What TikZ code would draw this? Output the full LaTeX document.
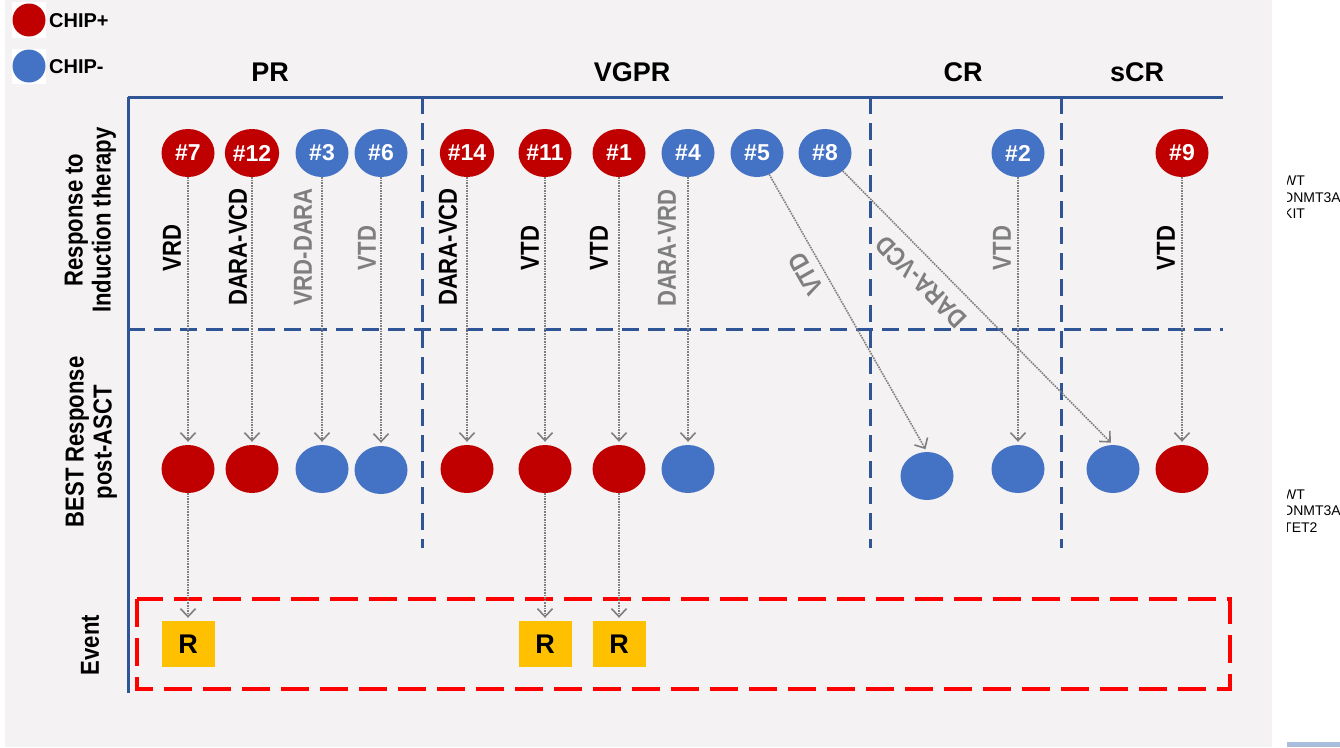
\documentclass[tikz,border=0pt]{standalone}
\usepackage{fontspec}
\usepackage{graphicx}
\setmainfont{Liberation Sans}
\usetikzlibrary{arrows.meta,shapes.geometric}
\definecolor{chipred}{HTML}{C00000}
\definecolor{chipblue}{HTML}{4472C4}
\definecolor{lineblue}{HTML}{2F5597}
\definecolor{evyellow}{HTML}{FFC000}
\definecolor{bggray}{HTML}{F4F2F3}
\definecolor{txtgray}{HTML}{7F7F7F}
\definecolor{barblue}{HTML}{A9BEDC}
\definecolor{evred}{HTML}{FF0000}
\newcommand\sqz[1]{\scalebox{0.85}[1]{#1}}
\begin{document}
\begin{tikzpicture}[x=1pt,y=-1pt,
  tcirc/.style={ellipse, minimum width=53, minimum height=48, inner sep=0, text=white, font=\fontsize{23}{23}\selectfont\bfseries},
  bcirc/.style={ellipse, minimum width=53, minimum height=48, inner sep=0},
  chipp/.style={fill=chipred},
  chipm/.style={fill=chipblue},
  evbox/.style={fill=evyellow, minimum width=53, minimum height=46, inner sep=0, font=\fontsize{27}{27}\selectfont\bfseries},
  conn/.style={draw=txtgray, line width=1.6, densely dotted, -{Straight Barb[length=8,width=15,line width=1.6]}, shorten >=3},
  lab/.style={inner sep=0, font=\fontsize{26}{26}\selectfont\bfseries},
  glab/.style={lab, text=txtgray},
  rowlab/.style={inner sep=0, rotate=90, font=\fontsize{26}{28}\selectfont\bfseries},
  hdr/.style={inner sep=0, font=\fontsize{27}{27}\selectfont\bfseries},
  axisline/.style={draw=lineblue, line width=3},
  bdash/.style={draw=lineblue, line width=3, dash pattern=on 17 off 9},
  rdash/.style={draw=evred, line width=3.5, dash pattern=on 28 off 11},
  side/.style={inner sep=0, anchor=base west, font=\fontsize{14}{16}\selectfont}
]
% background
\fill[white] (0,0) rectangle (1340,747);
\fill[bggray] (5,0) rectangle (1272,747);
\fill[barblue] (1287,742) rectangle (1340,747);
\useasboundingbox (0,0) rectangle (1340,747);

% legend
\fill[white] (12,2) rectangle (46,38);
\fill[white] (12,49) rectangle (46,84);
\node[circle, fill=chipred, minimum size=33, inner sep=0] (lp) at (29,20) {};
\node[circle, fill=chipblue, minimum size=33, inner sep=0] (lm) at (29,66) {};
\node[inner sep=0, anchor=west, font=\fontsize{20}{20}\selectfont\bfseries] (lpt) at (49,21) {CHIP+};
\node[inner sep=0, anchor=west, font=\fontsize{20}{20}\selectfont\bfseries] (lmt) at (49,67) {CHIP-};

% headers
\node[hdr] (hPR) at (270,72) {PR};
\node[hdr] (hVGPR) at (632,72) {VGPR};
\node[hdr] (hCR) at (963,72) {CR};
\node[hdr] (hsCR) at (1137,72) {sCR};

% frame lines
\draw[axisline] (128,97) -- (1223,97);
\draw[axisline] (128,97) -- (128,693);
\draw[bdash] (128,329) -- (1223,329);
\draw[bdash] (422,97) -- (422,548);
\draw[bdash] (870,97) -- (870,548);
\draw[bdash] (1061,97) -- (1061,548);
\draw[rdash] (137,599) rectangle (1230,689);

% row labels
\node[rowlab] (rl1) at (91,220) {\sqz{\begin{tabular}{@{}c@{}}Response to\\Induction therapy\end{tabular}}};
\node[rowlab] (rl2) at (92,442) {\sqz{\begin{tabular}{@{}c@{}}BEST Response\\post-ASCT\end{tabular}}};
\node[rowlab] (rl3) at (90,645) {\sqz{Event}};

% top circles
\node[tcirc, chipp] (t7) at (188,153) {\#7};
\node[tcirc, chipp] (t12) at (252,153) {\#12};
\node[tcirc, chipm] (t3) at (322,153) {\#3};
\node[tcirc, chipm] (t6) at (381,153) {\#6};
\node[tcirc, chipp] (t14) at (467,153) {\#14};
\node[tcirc, chipp] (t11) at (545,153) {\#11};
\node[tcirc, chipp] (t1) at (619,153) {\#1};
\node[tcirc, chipm] (t4) at (688,153) {\#4};
\node[tcirc, chipm] (t5) at (757,153) {\#5};
\node[tcirc, chipm] (t8) at (825,153) {\#8};
\node[tcirc, chipm] (t2) at (1018,153) {\#2};
\node[tcirc, chipp] (t9) at (1182,153) {\#9};

% bottom circles
\node[bcirc, chipp] (b7) at (188,469) {};
\node[bcirc, chipp] (b12) at (252,469) {};
\node[bcirc, chipm] (b3) at (322,469) {};
\node[bcirc, chipm] (b6) at (381,470) {};
\node[bcirc, chipp] (b14) at (467,469) {};
\node[bcirc, chipp] (b11) at (545,469) {};
\node[bcirc, chipp] (b1) at (619,469) {};
\node[bcirc, chipm] (b4) at (688,469) {};
\node[bcirc, chipm] (b5) at (927,476) {};
\node[bcirc, chipm] (b2) at (1018,469) {};
\node[bcirc, chipm] (b8) at (1113,469) {};
\node[bcirc, chipp] (b9) at (1182,469) {};

% events
\node[evbox] (r7) at (188,644) {R};
\node[evbox] (r11) at (545,644) {R};
\node[evbox] (r1) at (619,644) {R};

% connectors
\draw[conn] (t7) -- (b7);
\draw[conn] (t12) -- (b12);
\draw[conn] (t3) -- (b3);
\draw[conn] (t6) -- (b6);
\draw[conn] (t14) -- (b14);
\draw[conn] (t11) -- (b11);
\draw[conn] (t1) -- (b1);
\draw[conn] (t4) -- (b4);
\draw[conn] (t5) -- (b5.north);
\draw[conn] (t8) -- (b8.north);
\draw[conn] (t2) -- (b2);
\draw[conn] (t9) -- (b9);
\draw[conn] (b7) -- (r7);
\draw[conn] (b11) -- (r11);
\draw[conn] (b1) -- (r1);

% therapy labels
\node[lab, rotate=90] (l7) at (172,248) {\sqz{VRD}};
\node[lab, rotate=90] (l12) at (238,247) {\sqz{DARA-VCD}};
\node[glab, rotate=90] (l3) at (303,247) {\sqz{VRD-DARA}};
\node[glab, rotate=90] (l6) at (367,248) {\sqz{VTD}};
\node[lab, rotate=90] (l14) at (448,247) {\sqz{DARA-VCD}};
\node[lab, rotate=90] (l11) at (530,248) {\sqz{VTD}};
\node[lab, rotate=90] (l1) at (599,248) {\sqz{VTD}};
\node[glab, rotate=90] (l4) at (667,248) {\sqz{DARA-VRD}};
\node[glab, rotate=119.5] (l5) at (806,274) {\sqz{VTD}};
\node[glab, rotate=134.6] (l8) at (921,282) {\sqz{DARA-VCD}};
\node[glab, rotate=90] (l2) at (1002,248) {\sqz{VTD}};
\node[lab, rotate=90] (l9) at (1166,248) {\sqz{VTD}};

% clipped side text
\begin{scope}
\clip (1287,160) rectangle (1340,545);
\node[side] (s1a) at (1283,185) {WT};
\node[side] (s1b) at (1283,202) {DNMT3A};
\node[side] (s1c) at (1283,218) {KIT};
\node[side] (s2a) at (1283,499) {WT};
\node[side] (s2b) at (1283,515) {DNMT3A};
\node[side] (s2c) at (1283,532) {TET2};
\end{scope}
\end{tikzpicture}
\end{document}
